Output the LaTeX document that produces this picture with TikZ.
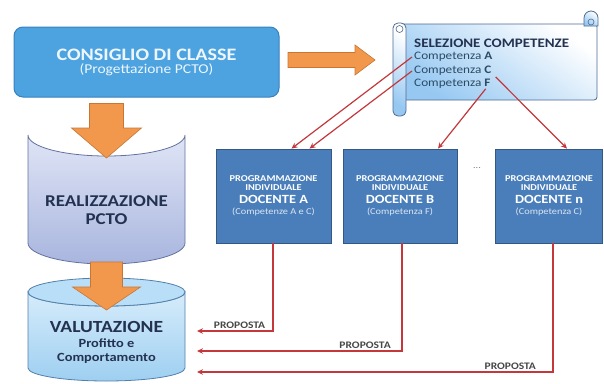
\documentclass[tikz,border=0pt]{standalone}
\usepackage{fontspec}
\setmainfont{Carlito}[FakeStretch=1.15]
\usetikzlibrary{arrows.meta,calc,positioning}

\definecolor{cielo}{RGB}{77,163,224}
\definecolor{cieloBordo}{RGB}{55,128,190}
\definecolor{docBlu}{RGB}{74,126,187}
\definecolor{docBordo}{RGB}{52,88,132}
\definecolor{arancio}{RGB}{242,152,76}
\definecolor{arancioBordo}{RGB}{200,118,52}
\definecolor{rosso}{RGB}{196,56,60}
\definecolor{navy}{RGB}{36,50,82}
\definecolor{compCol}{RGB}{44,76,102}
\definecolor{scrollBordo}{RGB}{78,106,146}
\definecolor{scrollBlu}{RGB}{150,200,242}
\definecolor{lav1}{RGB}{224,229,246}
\definecolor{lav2}{RGB}{168,181,222}
\definecolor{lavBordo}{RGB}{100,114,160}
\definecolor{azz1}{RGB}{214,236,251}
\definecolor{azz2}{RGB}{158,207,241}
\definecolor{azzTop}{RGB}{184,222,248}
\definecolor{azzBordo}{RGB}{82,128,170}

% freccia a blocco: da, a, mezza asta, mezza punta, lunghezza punta
\newcommand{\blockarrow}[5]{%
  \path (#2) coordinate (ba-t) ($(#2)!#5!(#1)$) coordinate (ba-h);
  \draw[bigarrow] ($(#1)!#3!90:(ba-t)$) -- ($(ba-h)!#3!90:(ba-t)$)
    -- ($(ba-h)!#4!90:(ba-t)$) -- (ba-t) -- ($(ba-h)!#4!-90:(ba-t)$)
    -- ($(ba-h)!#3!-90:(ba-t)$) -- ($(#1)!#3!-90:(ba-t)$) -- cycle;
}

\begin{document}
\begin{tikzpicture}[x=1pt,y=-1pt,
  consbox/.style={draw=cieloBordo, line width=1pt, fill=cielo, rounded corners=9pt,
    minimum width=265pt, minimum height=70pt, text=white!90!cielo, align=center},
  docbox/.style={draw=docBordo, line width=0.8pt, fill=docBlu, minimum height=94pt,
    text=white, align=center, inner sep=0pt, font=\fontsize{9}{9}\selectfont\bfseries},
  bigarrow/.style={fill=arancio, draw=arancioBordo, line width=0.6pt},
  freccia/.style={draw=rosso, line width=1.2pt, -{Stealth[length=6pt,width=5.5pt]}},
  proposta/.style={font=\fontsize{10}{10}\selectfont\bfseries, text=black!72, inner sep=1.5pt},
  comp/.style={anchor=west, inner sep=0pt, text=compCol, font=\fontsize{11.5}{12}\selectfont},
  cyltext/.style={text=navy, align=center, font=\bfseries},
  scrollfill/.style={draw=scrollBordo, line width=0.8pt, top color=white, bottom color=scrollBlu, shading angle=-35}
]
\useasboundingbox (0,0) rectangle (604,383);

% consiglio di classe
\node[consbox] (consiglio) at (146.5,62)
  {{\fontsize{17.5}{20}\selectfont\bfseries CONSIGLIO DI CLASSE}\\[1pt]
   {\fontsize{13.5}{15}\selectfont (Progettazione PCTO)}};

% pergamena
\shadedraw[scrollfill, rounded corners=3pt] (399,24) rectangle (597,100);
\shadedraw[scrollfill] (584,26) -- (584,18) arc[start angle=180,end angle=0,radius=7pt] -- (598,26) -- cycle;
\draw[scrollBordo, line width=0.6pt] (591,22) circle (3pt);
\shadedraw[scrollfill, rounded corners=5pt] (393,23) rectangle (406,116);
\draw[scrollBordo, line width=0.6pt] (399.5,29) circle (3.5pt);
\node[anchor=west, inner sep=0pt, text=navy, font=\fontsize{13}{14}\selectfont\bfseries] (selez) at (414,43) {SELEZIONE COMPETENZE};
\node[comp] (cA) at (414,57) {Competenza \textbf{A}};
\node[comp] (cC) at (414,71) {Competenza \textbf{C}};
\node[comp] (cF) at (414,84) {Competenza \textbf{F}};

% cilindro realizzazione
\shadedraw[top color=lav1, bottom color=lav2, draw=lavBordo, line width=0.8pt]
  (28,135) -- (28,243) arc[start angle=180,end angle=360,x radius=78.5pt,y radius=21pt]
  -- (185,135) arc[start angle=0,end angle=-180,x radius=78.5pt,y radius=21pt] -- cycle;
\node[cyltext, font=\fontsize{16.5}{18}\selectfont\bfseries] (realiz) at (106.5,210) {REALIZZAZIONE\\PCTO};

% cilindro valutazione
\shadedraw[top color=azz1, bottom color=azz2, draw=azzBordo, line width=0.8pt]
  (28,292) -- (28,368) arc[start angle=180,end angle=360,x radius=78.5pt,y radius=13pt]
  -- (185,292) arc[start angle=0,end angle=-180,x radius=78.5pt,y radius=14pt] -- cycle;
\filldraw[fill=azzTop, draw=azzBordo, line width=0.8pt] (106.5,292) ellipse[x radius=78.5pt,y radius=14pt];
\node[cyltext, font=\fontsize{17}{16}\selectfont\bfseries] (valut) at (106.5,342)
  {VALUTAZIONE\\[-1pt]{\fontsize{12.5}{14}\selectfont Profitto e}\\[-2pt]{\fontsize{12.5}{14}\selectfont Comportamento}};

% frecce arancioni
\coordinate (a1s) at (consiglio.south -| realiz);
\coordinate (a1e) at (106.5,158);
\coordinate (a2s) at (106.5,262);
\coordinate (a2e) at (106.5,310);
\coordinate (a3s) at (288,60);
\coordinate (a3e) at (375,60);
\blockarrow{$(a1s)+(0,6)$}{a1e}{17pt}{35pt}{30pt}
\blockarrow{a2s}{a2e}{16pt}{34pt}{23pt}
\blockarrow{a3s}{a3e}{7.5pt}{15pt}{20pt}

% docenti
\node[docbox, minimum width=115pt] (docA) at (273.5,196)
  {PROGRAMMAZIONE\\INDIVIDUALE\\[4pt]{\fontsize{12.5}{13}\selectfont DOCENTE A}\\[2pt]{\mdseries\fontsize{9}{10}\selectfont\color{white!80!docBlu}(Competenze A e C)}};
\node[docbox, minimum width=114pt] (docB) at (400,196)
  {PROGRAMMAZIONE\\INDIVIDUALE\\[4pt]{\fontsize{12.5}{13}\selectfont DOCENTE B}\\[2pt]{\mdseries\fontsize{9}{10}\selectfont\color{white!80!docBlu}(Competenza F)}};
\node[docbox, minimum width=107pt] (docN) at (549,196)
  {PROGRAMMAZIONE\\INDIVIDUALE\\[4pt]{\fontsize{12.5}{13}\selectfont DOCENTE n}\\[2pt]{\mdseries\fontsize{9}{10}\selectfont\color{white!80!docBlu}(Competenza C)}};
\node[text=black!50, font=\fontsize{9}{9}\selectfont] (puntini) at (477,168) {...};

% competenze ai docenti
\draw[freccia] ([xshift=-2pt]cA.west) -- ([xshift=18pt]docA.north);
\draw[freccia] ([xshift=-2pt]cC.west) -- ([xshift=36pt]docA.north);
\draw[freccia] ([xshift=-5pt]cF.south east) -- ([xshift=38pt]docB.north);
\draw[freccia] ([xshift=4pt,yshift=-1pt]cC.south east) -- ([xshift=18pt]docN.north);

% proposte alla valutazione
\coordinate (inA) at (197,331);
\coordinate (inB) at (197,351);
\coordinate (inN) at (197,372);
\draw[freccia] ([xshift=-0.5pt]docA.south) |- (inA) node[proposta, pos=0.72, above] (propA) {PROPOSTA};
\draw[freccia] ([xshift=2pt]docB.south) |- (inB) node[proposta, pos=0.59, above] (propB) {PROPOSTA};
\draw[freccia] ([xshift=4pt]docN.south) |- (inN) node[proposta, pos=0.56, above] (propN) {PROPOSTA};
\end{tikzpicture}
\end{document}
